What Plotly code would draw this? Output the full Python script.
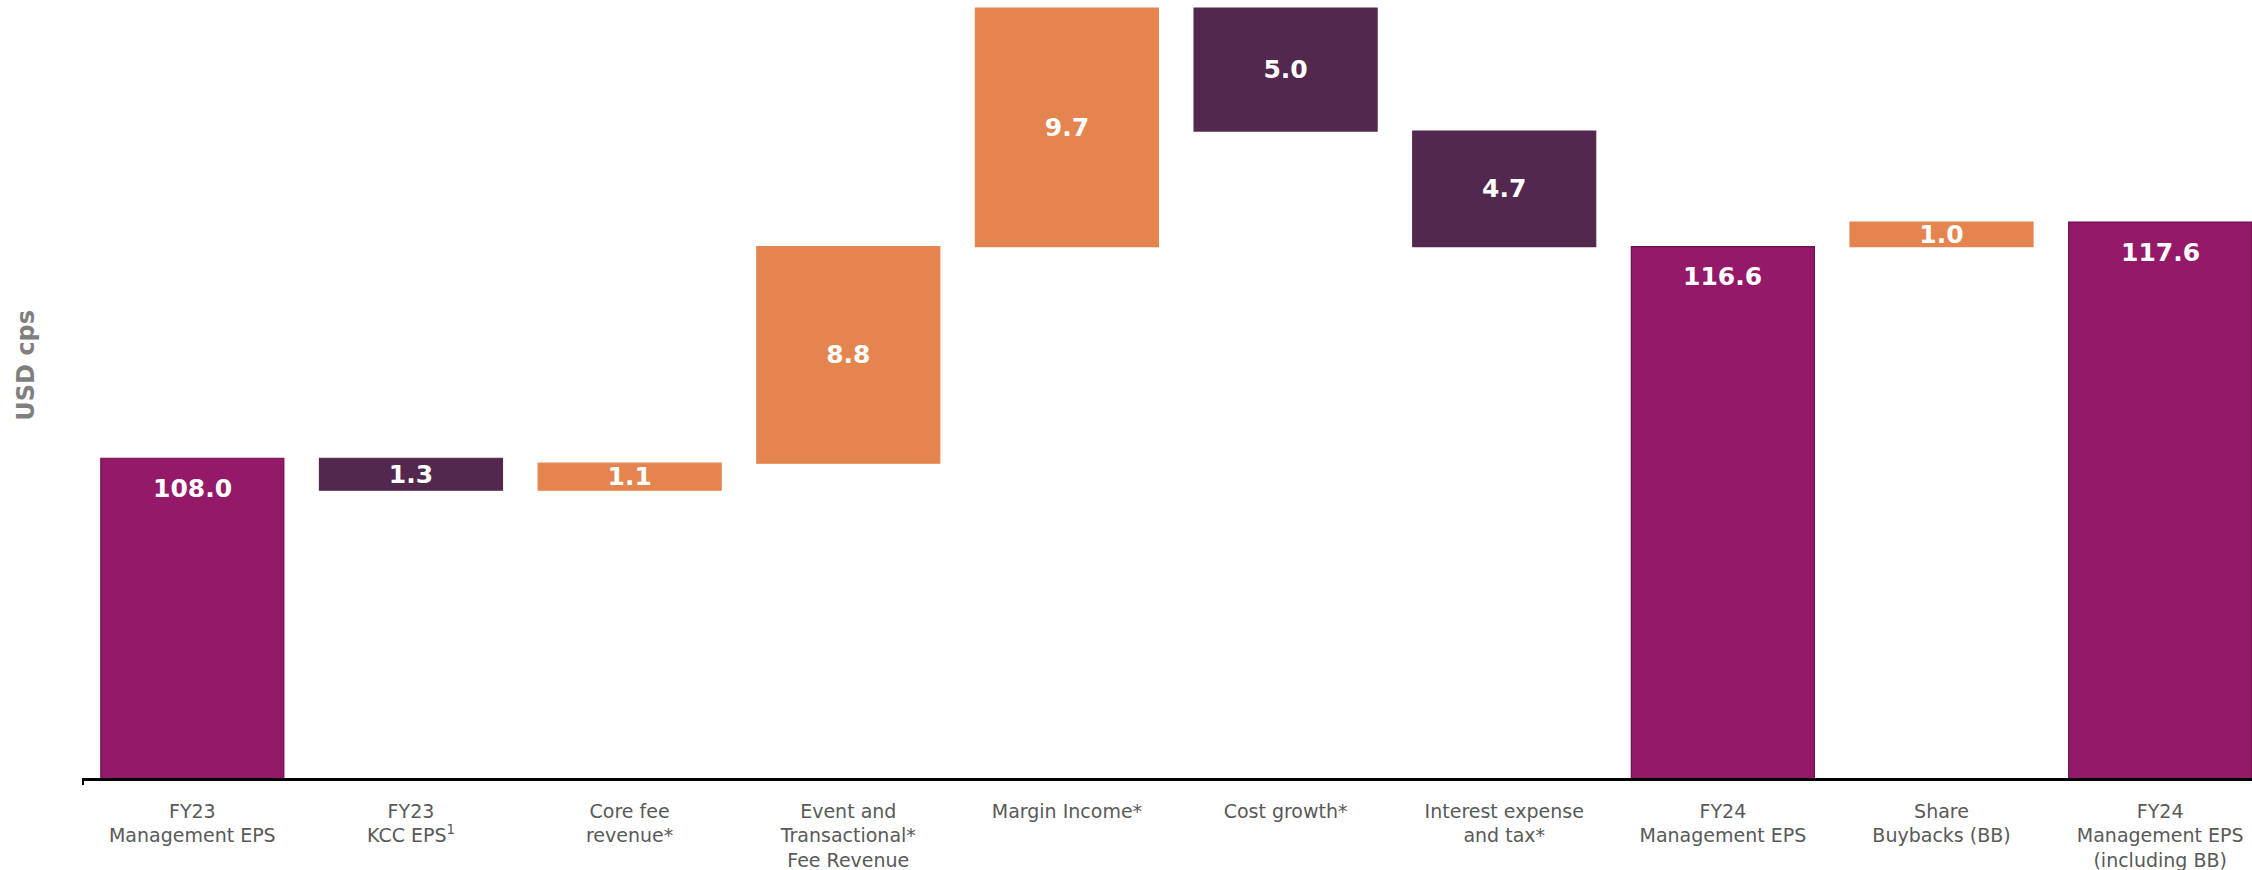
import plotly.graph_objects as go

categories = [
    "FY23<br>Management EPS",
    "FY23<br>KCC EPS<sup>1</sup>",
    "Core fee<br>revenue*",
    "Event and<br>Transactional*<br>Fee Revenue",
    "Margin Income*",
    "Cost growth*",
    "Interest expense<br>and tax*",
    "FY24<br>Management EPS",
    "Share<br>Buybacks (BB)",
    "FY24<br>Management EPS<br>(including BB)",
]
values = [108.0, -1.3, 1.1, 8.8, 9.7, -5.0, -4.7, 116.6, 1.0, 117.6]
measures = ["total", "relative", "relative", "relative", "relative",
            "relative", "relative", "total", "relative", "total"]

C_TOTAL = "#941A69"
C_UP = "#E4844F"
C_DOWN = "#53284E"

# compute floating bar bases from the waterfall logic
tot_x, tot_y = [], []
chg_x, chg_base, chg_h, chg_col, chg_text = [], [], [], [], []
running = 0.0
for i, (v, m) in enumerate(zip(values, measures)):
    if m == "total":
        tot_x.append(i)
        tot_y.append(v)
        running = v
    else:
        start = running
        running = running + v
        chg_x.append(i)
        chg_base.append(min(start, running))
        chg_h.append(abs(v))
        chg_col.append(C_UP if v > 0 else C_DOWN)
        chg_text.append(f"{abs(v):.1f}")

x_idx = list(range(len(categories)))

fig = go.Figure()
fig.add_trace(go.Bar(
    x=tot_x, y=tot_y, width=0.837,
    marker=dict(color=C_TOTAL, line=dict(color="#6E0F4E", width=1.2)),
    hoverinfo="skip", showlegend=False,
))
fig.add_trace(go.Bar(
    x=chg_x, y=chg_h, base=chg_base, width=0.837,
    marker=dict(color=chg_col, line=dict(color=chg_col, width=1.2)),
    text=chg_text, textposition="inside", insidetextanchor="middle",
    textangle=0,
    textfont=dict(family="Verdana, DejaVu Sans", size=25, color="white", weight="bold"),
    hoverinfo="skip", showlegend=False,
))

annotations = []
for xi, v in zip(tot_x, tot_y):
    annotations.append(dict(
        x=xi, y=v, xref="x", yref="y", text=f"<b>{v:.1f}</b>",
        showarrow=False, yshift=-30, yanchor="middle", xanchor="center",
        font=dict(family="Verdana, DejaVu Sans", size=25, color="white"),
    ))
annotations.append(dict(
    x=0, y=0.53, xref="paper", yref="paper", text="<b>USD cps</b>",
    textangle=-90, showarrow=False, xshift=-57, xanchor="center", yanchor="middle",
    font=dict(family="Verdana, DejaVu Sans", size=24, color="#7F7F7F"),
))

fig.update_layout(
    width=2252, height=870,
    margin=dict(l=83, r=0, t=0, b=92),
    paper_bgcolor="white", plot_bgcolor="white",
    barmode="overlay",
    uniformtext=dict(minsize=25, mode="show"),
    annotations=annotations,
    shapes=[dict(type="line", xref="paper", yref="paper", x0=0, x1=0, y0=0, y1=-0.009,
                 line=dict(color="black", width=2))],
    font=dict(family="Verdana, DejaVu Sans"),
)
fig.update_xaxes(
    tickmode="array", tickvals=x_idx, ticktext=categories,
    range=[-0.5, 9.42],
    showline=True, linecolor="black", linewidth=2.5,
    showgrid=False, zeroline=False, ticks="",
    ticklabelstandoff=14,
    tickfont=dict(family="Verdana, DejaVu Sans", size=19, color="#595959"),
)
fig.update_yaxes(
    range=[95.0, 126.63], showticklabels=False, showgrid=False,
    zeroline=False, showline=False, ticks="",
)

fig.write_html("out.html")
